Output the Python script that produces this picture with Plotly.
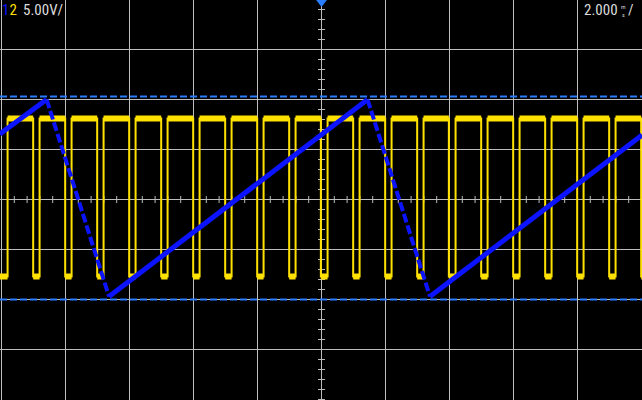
import plotly.graph_objects as go

# ---------------- data (time in ms, amplitude in V, 5 V/div, 2 ms/div) ----------------
ch2_rise_ms = [-9.81, -8.81, -7.81, -6.81, -5.81, -4.81, -3.81, -2.81, -1.81, -0.81,
               0.19, 1.19, 2.19, 3.19, 4.19, 5.19, 6.19, 7.19, 8.19, 9.19]
ch2_fall_ms = [-9.01, -8.01, -7.01, -6.01, -5.01, -4.01, -3.01, -2.01, -1.01, -0.02,
               0.99, 1.99, 2.99, 3.98, 4.99, 5.99, 6.99, 7.99, 8.99, 9.99]
ch2_high_v = 8.1
ch2_low_v = -7.7

ch1_t_ms = [-10.05, -8.59, -6.64, 1.44, 3.39, 10.02]
ch1_v = [6.55, 10.0, -9.7, 10.0, -9.7, 6.45]

cursor_levels_v = [10.3, -10.0]

x_range = [-10.047, 10.016]
y_range = [-20.05, 19.95]

# ---------------- colours ----------------
YELLOW = "#ffe100"
BLUE = "#0c14ff"
CURSOR = "#2a7dff"
GRID = "#bdbdbd"
TEXT = "#dcdcdc"

# ---------------- build traces ----------------
yx, yy = [x_range[0]], [ch2_low_v]
for r, f in zip(ch2_rise_ms, ch2_fall_ms):
    yx += [r, r, f, f]
    yy += [ch2_low_v, ch2_high_v, ch2_high_v, ch2_low_v]
yx.append(x_range[1]); yy.append(ch2_low_v)

# thick horizontal bands (trace noise thickness)
bx, by = [], []
lows = [x_range[0]] + ch2_fall_ms
highs_end = ch2_rise_ms + [x_range[1]]
for a, b in zip(lows, highs_end):
    bx += [a, b, None]; by += [ch2_low_v, ch2_low_v, None]
for r, f in zip(ch2_rise_ms, ch2_fall_ms):
    bx += [r, f, None]; by += [ch2_high_v, ch2_high_v, None]

# blue: rising segments solid, falling segments dashed
rx, ry, fx, fy = [], [], [], []
for i in range(len(ch1_t_ms) - 1):
    seg_x = [ch1_t_ms[i], ch1_t_ms[i + 1], None]
    seg_y = [ch1_v[i], ch1_v[i + 1], None]
    if ch1_v[i + 1] > ch1_v[i]:
        rx += seg_x; ry += seg_y
    else:
        fx += seg_x; fy += seg_y

fig = go.Figure()

# graticule minor ticks on the centre lines
minor_x = [i * 0.4 - 10 for i in range(51)]
minor_y = [i * 1.0 - 20 for i in range(41)]
fig.add_trace(go.Scatter(x=minor_x, y=[0] * len(minor_x), mode="markers",
                         marker=dict(symbol="line-ns", size=5, line=dict(color=GRID, width=1)),
                         hoverinfo="skip", showlegend=False))
fig.add_trace(go.Scatter(x=[0] * len(minor_y), y=minor_y, mode="markers",
                         marker=dict(symbol="line-ew", size=5, line=dict(color=GRID, width=1)),
                         hoverinfo="skip", showlegend=False))

# cursors
for lv in cursor_levels_v:
    fig.add_trace(go.Scatter(x=x_range, y=[lv, lv], mode="lines",
                             line=dict(color=CURSOR, width=2, dash="7px,3px"),
                             hoverinfo="skip", showlegend=False))

# channel 2 (yellow)
fig.add_trace(go.Scatter(x=yx, y=yy, mode="lines", line=dict(color=YELLOW, width=2),
                         showlegend=False))
fig.add_trace(go.Scatter(x=bx, y=by, mode="lines", line=dict(color=YELLOW, width=6),
                         showlegend=False, connectgaps=False))

# channel 1 (blue)
fig.add_trace(go.Scatter(x=rx, y=ry, mode="lines", line=dict(color=BLUE, width=5),
                         showlegend=False, connectgaps=False))
fig.add_trace(go.Scatter(x=fx, y=fy, mode="lines", line=dict(color=BLUE, width=4, dash="9px,3px"),
                         showlegend=False, connectgaps=False))

# trigger position marker
fig.add_trace(go.Scatter(x=[0], y=[19.85], mode="markers",
                         marker=dict(symbol="triangle-down", size=12, color=CURSOR, line=dict(width=0)),
                         showlegend=False))

FONT = "Liberation Sans Narrow, Roboto Condensed, Liberation Sans, Arial"
W, H = 642, 400
ann = [
    dict(x=1 / W, y=1 - 0.5 / H, text="<span style='color:%s'>1</span><span style='color:%s'>2</span>" % (BLUE, YELLOW),
         font=dict(size=15, color=TEXT, family=FONT)),
    dict(x=22 / W, y=1 - 0.5 / H, text="5.00V/", font=dict(size=15, color=TEXT, family=FONT)),
    dict(x=583 / W, y=1 - 0.5 / H, text="2.000", font=dict(size=15, color=TEXT, family=FONT)),
    dict(x=619.5 / W, y=1 - 2.5 / H, text="m<br>s", font=dict(size=6, color=TEXT, family=FONT)),
    dict(x=627 / W, y=1 - 0.5 / H, text="/", font=dict(size=15, color=TEXT, family=FONT)),
]
for a in ann:
    a.update(xref="paper", yref="paper", xanchor="left", yanchor="top", showarrow=False,
             borderpad=0)

fig.update_layout(
    width=W, height=H, margin=dict(l=0, r=0, t=0, b=0),
    paper_bgcolor="black", plot_bgcolor="black",
    annotations=ann,
    xaxis=dict(range=x_range, showgrid=True, gridcolor=GRID, gridwidth=1, tick0=-10, dtick=2,
               zeroline=False, showticklabels=False, ticks="", fixedrange=True),
    yaxis=dict(range=y_range, showgrid=True, gridcolor=GRID, gridwidth=1, tick0=-20, dtick=5,
               zeroline=False, showticklabels=False, ticks="", fixedrange=True),
    showlegend=False,
)

fig.write_html("out.html", config={"displayModeBar": False},
               post_script="document.body.style.margin='0';document.body.style.padding='0';"
                           "document.body.style.overflow='hidden';")
